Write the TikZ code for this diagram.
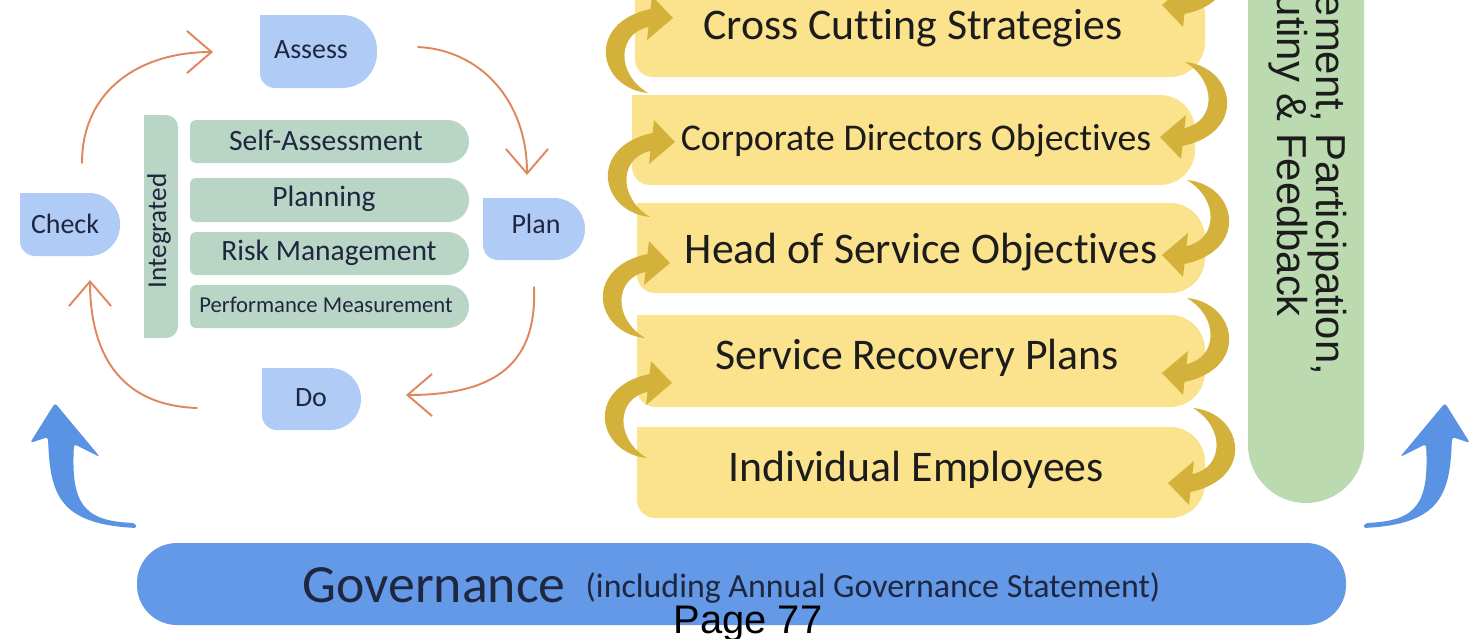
\documentclass[tikz,border=0pt]{standalone}
\usepackage{fontspec}
\setmainfont{Carlito}[Ligatures=NoCommon]
\newfontfamily\arialfont{Liberation Sans}
\usetikzlibrary{arrows.meta}

\definecolor{ybox}{HTML}{FBE38E}
\definecolor{gold}{HTML}{D3B13A}
\definecolor{gbar}{HTML}{BCDAB0}
\definecolor{sage}{HTML}{B8D5C5}
\definecolor{lblue}{HTML}{B0CBF5}
\definecolor{orng}{HTML}{E1875F}
\definecolor{gblue}{HTML}{6399E6}
\definecolor{ablue}{HTML}{5A93E4}
\definecolor{navy}{HTML}{1E2640}
\definecolor{ink}{HTML}{1C1C1C}

% tab shape: x1 y1 x2 y2 colour, left radius, right radius (radii in px)
\newcommand\tabfill[7]{%
  \pgfmathsetlengthmacro\tabra{#6*0.02cm}%
  \pgfmathsetlengthmacro\tabrb{#7*0.02cm}%
  \fill[#5] [rounded corners=\tabrb] (#1,#2) rectangle (#3,#4)
    [rounded corners=\tabra] (#1,#2) rectangle ({#3-#7},#4);
}
% same tab, with a square top left corner
\newcommand\tabfillsq[7]{%
  \pgfmathsetlengthmacro\tabra{#6*0.02cm}%
  \pgfmathsetlengthmacro\tabrb{#7*0.02cm}%
  \fill[#5] [rounded corners=\tabrb] (#1,#2) rectangle (#3,#4)
    [rounded corners=\tabra] (#1,#2) rectangle ({#3-#7},#4)
    [sharp corners] (#1,#2) rectangle ++(20,20);
}

\tikzset{
  ytext/.style={font=\fontsize{24.9}{28}\selectfont, text=ink, inner sep=0pt},
  ctext/.style={font=\fontsize{15.9}{18}\selectfont, text=navy, inner sep=0pt},
  rtext/.style={font=\fontsize{16.8}{19}\selectfont, text=navy, inner sep=0pt},
  cyclearrow/.style={draw=orng, line width=1.1pt, line cap=round,
    -{Straight Barb[length=14pt,width=24pt]}},
  goldR/.pic={\fill[gold] (0,0) -- (26,-22) -- (24.5,-9)
      .. controls (55,-15) and (58,-55) .. (25,-75)
      .. controls (75,-70) and (88,-5) .. (22.5,9) -- (21,22) -- cycle;},
  goldL/.pic={\fill[gold] (0,0) -- (-26,22) -- (-24.5,9)
      .. controls (-55,15) and (-58,55) .. (-25,75)
      .. controls (-75,70) and (-88,5) .. (-22.5,-9) -- (-21,-22) -- cycle;},
  bluearrow/.pic={\fill[ablue, rounded corners=0.06cm] (0,0) -- (45,54) -- (19,41)
      .. controls (16,100) and (28,118) .. (80,120) -- (82,125)
      .. controls (3,121) and (-5,90) .. (-7,34) -- (-25,40) -- cycle;},
}

\begin{document}
\begin{tikzpicture}[x=0.02cm, y=-0.02cm]
\useasboundingbox (0,0) rectangle (1481,639);
\clip (0,0) rectangle (1481,639);
\fill[white] (0,0) rectangle (1481,639);

% ---------- planning cycle ----------
\tabfillsq{260}{15}{377}{88}{lblue}{15}{35}
\tabfillsq{20}{193}{120}{256}{lblue}{15}{31}
\tabfillsq{483}{198}{585}{260}{lblue}{15}{31}
\tabfillsq{262}{368}{361}{430}{lblue}{15}{31}

\node[ctext] (assess) at (311,50) {Assess};
\node[ctext] (check) at (65,224) {Check};
\node[ctext] (plan) at (536,224) {Plan};
\node[ctext] (do) at (311,398) {Do};

\coordinate (a1s) at (82,163);  \coordinate (a1e) at (213,52);
\coordinate (a2s) at (418,47);  \coordinate (a2e) at (527,175);
\coordinate (a3s) at (534,287); \coordinate (a3e) at (406,395);
\coordinate (a4s) at (197,408); \coordinate (a4e) at (90,280);
\draw[cyclearrow] (a1s) .. controls (82,90) and (140,52) .. (a1e);
\draw[cyclearrow] (a2s) .. controls (480,50) and (527,100) .. (a2e);
\draw[cyclearrow] (a3s) .. controls (537,360) and (500,395) .. (a3e);
\draw[cyclearrow] (a4s) .. controls (110,405) and (90,340) .. (a4e);

% integrated processes
\fill[sage] [rounded corners=0.24cm] (144,115) rectangle (178,338)
  [sharp corners] (144,115) rectangle (164,338);
\node[ctext, rotate=90, font=\fontsize{15.5}{18}\selectfont] (integ) at (159,231) {Integrated};
\tabfill{190}{120}{469}{163}{sage}{6}{21.5}
\tabfill{190}{178}{469}{222}{sage}{6}{21.5}
\tabfill{190}{232}{469}{275}{sage}{6}{21.5}
\tabfill{190}{285}{469}{328}{sage}{6}{21.5}
\node[rtext] (self) at (326,140) {Self-Assessment};
\node[rtext] (planning) at (324,199) {Planning};
\node[rtext] (risk) at (329,253) {Risk Management};
\node[rtext, font=\fontsize{12.9}{15}\selectfont] (perf) at (326,305) {Performance Measurement};

% ---------- objectives cascade ----------
\tabfill{635}{-20}{1205}{77}{ybox}{18}{35}
\tabfillsq{632}{95}{1195}{185}{ybox}{18}{35}
\tabfillsq{637}{203}{1205}{293}{ybox}{18}{35}
\tabfillsq{637}{315}{1205}{407}{ybox}{18}{35}
\tabfillsq{637}{427}{1205}{518}{ybox}{18}{35}

\node[ytext] (cross) at (913,28) {Cross Cutting Strategies};
\node[ytext, font=\fontsize{21.5}{24}\selectfont] (corp) at (916,141) {Corporate Directors Objectives};
\node[ytext] (head) at (921,252) {Head of Service Objectives};
\node[ytext] (recov) at (917,358) {Service Recovery Plans};
\node[ytext] (indiv) at (916,470) {Individual Employees};

\pic at (673,18) {goldL};
\pic at (675,142) {goldL};
\pic at (670,263) {goldL};
\pic at (672,383) {goldL};
\pic at (1162,5) {goldR};
\pic at (1160,137) {goldR};
\pic at (1162,255) {goldR};
\pic at (1162,373) {goldR};
\pic at (1168,483) {goldR};

% ---------- engagement bar ----------
\fill[gbar, rounded corners=1.16cm] (1248,-300) rectangle (1364,503);
\node[rotate=-90, align=center, inner sep=0pt, text=ink,
      font=\arialfont\fontsize{23.8}{22.2}\selectfont] (engage) at (1308,124)
  {Engagement, Participation,\\Scrutiny \& Feedback};

% ---------- governance ----------
\pic at (55,403) {bluearrow};
\pic[xscale=-1] at (1445,403) {bluearrow};
\fill[gblue, rounded corners=0.8cm] (137,543) rectangle (1346,625);
\node[anchor=base, inner sep=0pt, text=navy, font=\fontsize{30.6}{34}\selectfont] (gov) at (434,602) {Governance};
\node[anchor=base, inner sep=0pt, text=navy, font=\fontsize{19.3}{22}\selectfont] (govnote) at (873,597) {(including Annual Governance Statement)};
\node[anchor=base, inner sep=0pt, text=black, font=\arialfont\fontsize{22.7}{26}\selectfont] (page) at (748,633) {Page 77};
\end{tikzpicture}
\end{document}
